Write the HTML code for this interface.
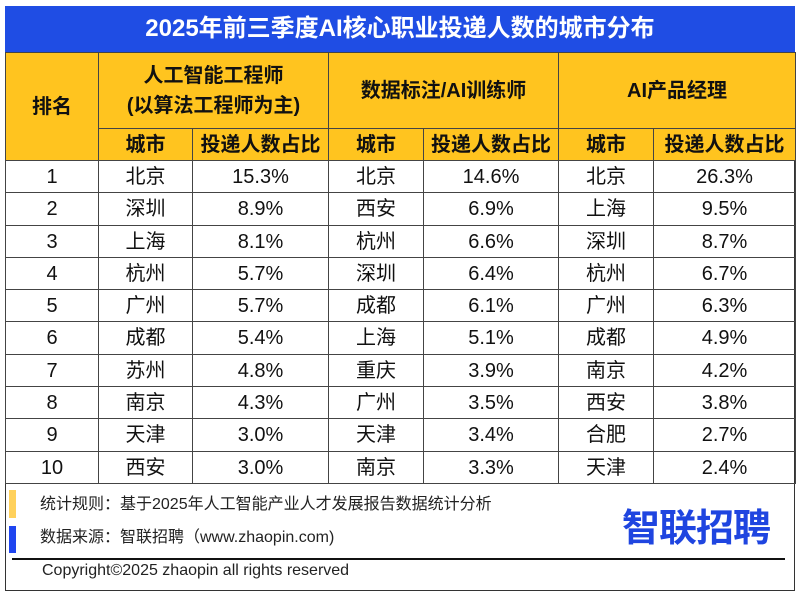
<!DOCTYPE html>
<html><head><meta charset="utf-8"><style>
*{margin:0;padding:0;box-sizing:border-box}
body{width:800px;height:595px;background:#fff;position:relative;overflow:hidden;font-family:"Liberation Sans","Noto Sans CJK SC",sans-serif;color:#111}
#frame{position:absolute;left:5px;top:6px;width:790px;height:585px;border:1.5px solid #333}
#title{position:absolute;left:5px;top:6px;width:790px;height:46px;background:#1f4de4;color:#fff;font-weight:bold;font-size:24px;text-align:center;line-height:46px}
table{position:absolute;left:5px;top:52px;border-collapse:collapse;table-layout:fixed;width:790px}
td,th{border:1.5px solid #444;text-align:center;font-size:20px;padding:0;vertical-align:middle}
th{background:#ffc41f;font-weight:bold}
tr.h1 th{height:76px;line-height:30px}
tr.h2 th{height:32px;line-height:20px}
tr.d td{height:32.3px;line-height:20px;font-weight:normal}
td span{display:inline-block;line-height:20px;vertical-align:middle}
.foot{position:absolute;font-size:16px;color:#222}
</style></head><body>
<div id="frame"></div>
<div id="title">2025年前三季度AI核心职业投递人数的城市分布</div>
<table>
<colgroup><col style="width:93px"><col style="width:94px"><col style="width:136px"><col style="width:95px"><col style="width:135px"><col style="width:95px"><col style="width:142px"></colgroup>
<thead>
<tr class="h1"><th rowspan="2">排名</th><th colspan="2">人工智能工程师<br>(以算法工程师为主)</th><th colspan="2">数据标注/AI训练师</th><th colspan="2">AI产品经理</th></tr>
<tr class="h2"><th>城市</th><th>投递人数占比</th><th>城市</th><th>投递人数占比</th><th>城市</th><th>投递人数占比</th></tr>
</thead>
<tbody id="tb"></tbody>
</table>
<div style="position:absolute;left:9px;top:490px;width:7px;height:28px;background:#ffd15c"></div>
<div style="position:absolute;left:9px;top:526px;width:7px;height:27px;background:#1f45f0"></div>
<div class="foot" style="left:40px;top:490px">统计规则：基于2025年人工智能产业人才发展报告数据统计分析</div>
<div class="foot" style="left:40px;top:523px">数据来源：智联招聘（www.zhaopin.com)</div>
<div style="position:absolute;left:622px;top:497px;font-size:38px;font-weight:bold;color:#1f45e0;letter-spacing:-1px">智联招聘</div>
<div style="position:absolute;left:12px;top:558px;width:773px;height:2px;background:#111"></div>
<div class="foot" style="left:42px;top:562px;font-size:16px">Copyright©2025 zhaopin all rights reserved</div>
<script>
const ranks=[1,2,3,4,5,6,7,8,9,10];
const citiesA=["北京","深圳","上海","杭州","广州","成都","苏州","南京","天津","西安"];
const valuesA=["15.3%","8.9%","8.1%","5.7%","5.7%","5.4%","4.8%","4.3%","3.0%","3.0%"];
const citiesB=["北京","西安","杭州","深圳","成都","上海","重庆","广州","天津","南京"];
const valuesB=["14.6%","6.9%","6.6%","6.4%","6.1%","5.1%","3.9%","3.5%","3.4%","3.3%"];
const citiesC=["北京","上海","深圳","杭州","广州","成都","南京","西安","合肥","天津"];
const valuesC=["26.3%","9.5%","8.7%","6.7%","6.3%","4.9%","4.2%","3.8%","2.7%","2.4%"];
const tb=document.getElementById('tb');
ranks.forEach((r,i)=>{
  const tr=document.createElement('tr');tr.className='d';
  
  
  [r,citiesA[i],valuesA[i],citiesB[i],valuesB[i],citiesC[i],valuesC[i]].forEach(v=>{
    const td=document.createElement('td');
    const sp=document.createElement('span');sp.textContent=v;
    td.appendChild(sp);
    
    
    tr.appendChild(td);
  });
  tb.appendChild(tr);
});
</script>
</body></html>
